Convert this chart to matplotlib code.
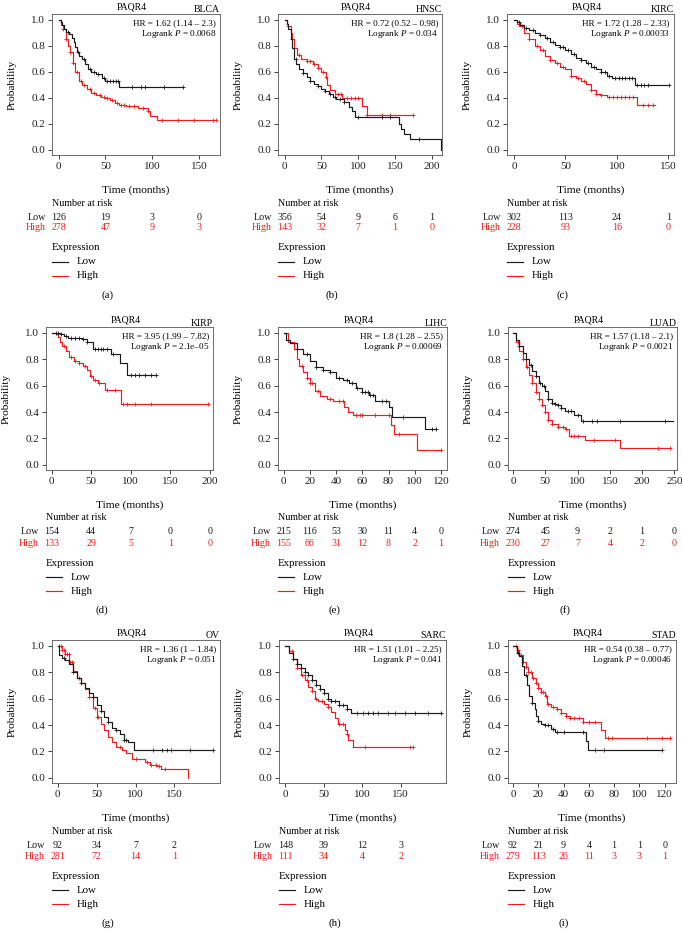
import numpy as np
import matplotlib.pyplot as plt
from matplotlib.lines import Line2D

plt.rcParams['font.family'] = ['Liberation Serif', 'DejaVu Serif']
plt.rcParams['mathtext.fontset'] = 'custom'
plt.rcParams['mathtext.rm'] = 'Liberation Serif'
plt.rcParams['mathtext.it'] = 'Liberation Serif:italic'

LOW_COL = '#1a1a1a'
HIGH_COL = '#ee1c1c'

# ---- BLCA ----
blca_low_t = [0, 2, 4, 6, 8, 11, 14, 16, 18, 20, 22, 25, 28, 31, 35, 40, 46, 50, 65, 133]
blca_low_s = [1.0, .98, .96, .93, .91, .89, .86, .83, .79, .75, .72, .70, .66, .62, .60, .58, .55, .53, .485, .485]
blca_low_c = [10, 21, 27, 33, 38, 42, 48, 52, 55, 58, 61, 63, 78, 88, 92, 113, 133]
blca_high_t = [0, 3, 5, 8, 10, 12, 15, 18, 22, 25, 30, 35, 40, 45, 50, 55, 60, 65, 72, 85, 95, 98, 105, 168]
blca_high_s = [1.0, .96, .93, .85, .80, .75, .67, .60, .53, .50, .47, .44, .42, .41, .40, .38, .36, .345, .34, .32, .30, .26, .23, .23]
blca_high_c = [5, 8, 12, 15, 20, 24, 27, 33, 38, 44, 48, 52, 57, 62, 67, 70, 75, 80, 90, 95, 110, 128, 145, 165, 168]
blca_risk_low = [126, 19, 3, 0]
blca_risk_high = [278, 47, 9, 3]

# ---- HNSC ----
hnsc_low_t = [0, 3, 5, 8, 10, 13, 16, 20, 25, 30, 35, 40, 45, 50, 55, 60, 65, 70, 80, 88, 92, 95, 155, 158, 162, 170, 213]
hnsc_low_s = [1.0, .97, .93, .85, .78, .70, .66, .62, .59, .56, .53, .51, .49, .47, .45, .43, .41, .39, .37, .33, .30, .25, .20, .16, .12, .08, 0.0]
hnsc_low_c = [15, 25, 35, 45, 55, 62, 68, 75, 80, 100, 132, 143, 182]
hnsc_high_t = [0, 3, 5, 8, 10, 13, 17, 22, 30, 38, 45, 50, 56, 58, 62, 68, 78, 105, 112, 175]
hnsc_high_s = [1.0, .97, .95, .90, .85, .78, .73, .70, .68, .66, .63, .60, .56, .50, .46, .43, .40, .34, .27, .27]
hnsc_high_c = [5, 10, 20, 30, 35, 40, 45, 52, 56, 72, 77, 85, 90, 95, 100, 112, 132, 143, 175]
hnsc_risk_low = [356, 54, 9, 6, 1]
hnsc_risk_high = [143, 32, 7, 1, 0]

# ---- KIRC ----
kirc_low_t = [0, 3, 6, 10, 15, 20, 25, 30, 35, 40, 45, 50, 55, 60, 65, 70, 75, 80, 85, 90, 95, 118, 151]
kirc_low_s = [1.0, .98, .96, .94, .92, .90, .88, .86, .83, .81, .79, .77, .74, .71, .69, .67, .64, .62, .60, .57, .55, .50, .50]
kirc_low_c = [5, 12, 18, 25, 32, 38, 45, 48, 52, 58, 65, 72, 78, 85, 88, 92, 98, 102, 105, 108, 112, 115, 120, 123, 126, 130, 151]
kirc_high_t = [0, 3, 5, 10, 15, 20, 25, 30, 35, 40, 45, 50, 55, 60, 65, 70, 75, 80, 85, 90, 120, 137]
kirc_high_s = [1.0, .97, .95, .90, .85, .80, .77, .72, .69, .67, .64, .62, .57, .55, .53, .51, .46, .43, .42, .41, .345, .345]
kirc_high_c = [8, 15, 22, 28, 35, 42, 48, 55, 62, 68, 75, 80, 85, 92, 96, 100, 104, 108, 112, 116, 125, 130, 135]
kirc_risk_low = [302, 113, 24, 1]
kirc_risk_high = [228, 93, 16, 0]

# ---- KIRP ----
kirp_low_t = [0, 10, 15, 20, 38, 45, 52, 75, 87, 95, 132]
kirp_low_s = [1.0, .99, .98, .965, .955, .93, .88, .84, .77, .68, .68]
kirp_low_c = [5, 8, 12, 18, 25, 30, 35, 40, 45, 55, 58, 62, 65, 70, 78, 100, 105, 110, 118, 125, 132]
kirp_high_t = [0, 5, 8, 10, 13, 18, 22, 28, 35, 40, 45, 48, 52, 58, 67, 88, 198]
kirp_high_s = [1.0, .99, .97, .93, .90, .86, .82, .79, .77, .75, .72, .67, .64, .62, .57, .46, .46]
kirp_high_c = [15, 25, 30, 35, 42, 50, 55, 60, 70, 80, 90, 95, 105, 125, 198]
kirp_risk_low = [154, 44, 7, 0, 0]
kirp_risk_high = [133, 29, 5, 1, 0]

# ---- LIHC ----
lihc_low_t = [0, 2, 5, 10, 15, 20, 25, 30, 35, 40, 45, 50, 55, 60, 65, 70, 80, 83, 108, 116]
lihc_low_s = [1.0, .95, .92, .88, .84, .79, .74, .72, .70, .66, .64, .62, .58, .55, .53, .48, .44, .365, .27, .27]
lihc_low_c = [10, 18, 25, 30, 35, 42, 48, 52, 56, 60, 62, 64, 66, 68, 75, 78, 91, 113, 116]
lihc_high_t = [0, 3, 8, 10, 12, 15, 18, 20, 24, 28, 33, 38, 46, 49, 53, 82, 84, 102, 120]
lihc_high_s = [1.0, .93, .88, .80, .75, .70, .66, .62, .56, .52, .50, .48, .44, .40, .38, .30, .23, .11, .11]
lihc_high_c = [14, 18, 20, 22, 26, 35, 42, 45, 55, 58, 60, 70, 80, 88, 120]
lihc_risk_low = [215, 116, 53, 30, 11, 4, 0]
lihc_risk_high = [155, 66, 31, 12, 8, 2, 1]

# ---- LUAD ----
luad_low_t = [0, 5, 10, 15, 20, 25, 30, 35, 40, 45, 50, 55, 60, 65, 70, 75, 80, 95, 105, 248]
luad_low_s = [1.0, .95, .90, .85, .80, .76, .71, .67, .62, .60, .56, .50, .47, .46, .45, .43, .41, .38, .335, .335]
luad_low_c = [10, 20, 28, 35, 42, 48, 55, 60, 65, 70, 75, 85, 90, 100, 109, 122, 130, 166, 235]
luad_high_t = [0, 5, 10, 15, 20, 25, 30, 35, 40, 45, 50, 55, 60, 70, 80, 87, 112, 165, 243]
luad_high_s = [1.0, .93, .86, .80, .74, .68, .62, .55, .50, .45, .40, .34, .31, .29, .27, .22, .19, .125, .125]
luad_high_c = [8, 15, 22, 30, 35, 40, 45, 50, 55, 60, 70, 78, 82, 90, 95, 100, 125, 158, 225, 243]
luad_risk_low = [274, 45, 9, 2, 1, 0]
luad_risk_high = [230, 27, 7, 4, 2, 0]

# ---- OV ----
ov_low_t = [0, 2, 5, 10, 15, 20, 25, 30, 35, 40, 45, 50, 55, 60, 65, 70, 75, 80, 85, 90, 98, 200]
ov_low_s = [1.0, .93, .91, .89, .86, .80, .76, .72, .68, .64, .61, .55, .51, .46, .42, .38, .36, .33, .29, .27, .21, .21]
ov_low_c = [8, 20, 30, 45, 55, 65, 75, 85, 88, 123, 134, 140, 145, 170, 200]
ov_high_t = [0, 5, 10, 15, 20, 25, 30, 35, 40, 45, 50, 55, 60, 65, 70, 75, 82, 88, 95, 112, 118, 128, 133, 168]
ov_high_s = [1.0, .97, .94, .88, .81, .76, .72, .67, .61, .53, .46, .41, .36, .31, .27, .23, .21, .19, .14, .12, .10, .09, .07, 0.0]
ov_high_c = [2, 4, 6, 8, 10, 12, 14, 16, 18, 28, 40, 48, 50, 52, 80, 100, 115, 120, 126, 130, 138]
ov_risk_low = [92, 34, 7, 2]
ov_risk_high = [281, 72, 14, 1]

# ---- SARC ----
sarc_low_t = [0, 5, 10, 15, 20, 25, 30, 35, 40, 45, 50, 55, 60, 70, 80, 85, 204]
sarc_low_s = [1.0, .95, .90, .86, .83, .80, .78, .74, .70, .67, .64, .60, .58, .55, .52, .49, .49]
sarc_low_c = [10, 15, 20, 25, 30, 35, 40, 45, 50, 55, 60, 65, 70, 75, 80, 93, 101, 108, 114, 121, 134, 142, 156, 169, 186, 203]
sarc_high_t = [0, 5, 10, 15, 20, 25, 30, 35, 38, 42, 50, 55, 60, 65, 68, 78, 80, 82, 88, 166]
sarc_high_s = [1.0, .96, .90, .83, .78, .74, .69, .66, .60, .58, .56, .54, .50, .45, .41, .36, .33, .29, .23, .23]
sarc_high_c = [8, 15, 22, 28, 35, 40, 48, 55, 70, 75, 80, 103, 162, 166]
sarc_risk_low = [148, 39, 12, 3]
sarc_risk_high = [111, 34, 4, 2]

# ---- STAD ----
stad_low_t = [0, 3, 5, 7, 9, 11, 13, 15, 17, 18, 20, 22, 25, 30, 33, 58, 59, 118]
stad_low_s = [1.0, .95, .92, .85, .78, .70, .62, .57, .52, .47, .43, .41, .40, .37, .345, .275, .21, .21]
stad_low_c = [4, 10, 15, 20, 25, 28, 32, 35, 40, 55, 65, 72, 118]
stad_high_t = [0, 3, 5, 8, 10, 12, 15, 18, 20, 22, 25, 27, 30, 35, 38, 42, 45, 55, 70, 73, 124]
stad_high_s = [1.0, .97, .93, .88, .84, .80, .76, .72, .68, .65, .62, .56, .54, .52, .49, .47, .45, .42, .36, .30, .30]
stad_high_c = [2, 4, 6, 8, 10, 12, 14, 16, 18, 20, 22, 24, 26, 28, 32, 35, 38, 42, 45, 48, 52, 55, 60, 65, 75, 78, 106, 118, 124]
stad_risk_low = [92, 21, 9, 4, 1, 1, 0]
stad_risk_high = [279, 113, 26, 11, 3, 3, 1]

cancers = ['BLCA', 'HNSC', 'KIRC', 'KIRP', 'LIHC', 'LUAD', 'OV', 'SARC', 'STAD']
hr_text = ['1.62 (1.14 – 2.3)', '0.72 (0.52 – 0.98)', '1.72 (1.28 – 2.33)',
           '3.95 (1.99 – 7.82)', '1.8 (1.28 – 2.55)', '1.57 (1.18 – 2.1)',
           '1.36 (1 – 1.84)', '1.51 (1.01 – 2.25)', '0.54 (0.38 – 0.77)']
p_text = ['0.0068', '0.034', '0.00033', '2.1e–05', '0.00069', '0.0021',
          '0.051', '0.041', '0.00046']
tags = ['(a)', '(b)', '(c)', '(d)', '(e)', '(f)', '(g)', '(h)', '(i)']

# layout (pixels): left, top, right, bottom of each plot box
rects = [(52, 14, 220, 155), (278, 14, 442, 155), (507, 14, 674, 155),
         (46, 327, 213, 470), (278, 327, 447, 470), (508, 327, 677, 470),
         (52, 640, 220, 783), (279, 640, 446, 783), (508, 640, 676, 783)]
xlims = [(-7.1, 172.4), (-9.1, 213.8), (-6.8, 155.5), (-7.2, 204), (-4.3, 124.6),
         (-7.7, 254), (-7.3, 208.5), (-8.3, 209), (-4, 129)]
xticks = [[0, 50, 100, 150], [0, 50, 100, 150, 200], [0, 50, 100, 150],
          [0, 50, 100, 150, 200], [0, 20, 40, 60, 80, 100, 120],
          [0, 50, 100, 150, 200, 250], [0, 50, 100, 150], [0, 50, 100, 150],
          [0, 20, 40, 60, 80, 100, 120]]

curves = [
    (blca_low_t, blca_low_s, blca_low_c, blca_high_t, blca_high_s, blca_high_c, blca_risk_low, blca_risk_high),
    (hnsc_low_t, hnsc_low_s, hnsc_low_c, hnsc_high_t, hnsc_high_s, hnsc_high_c, hnsc_risk_low, hnsc_risk_high),
    (kirc_low_t, kirc_low_s, kirc_low_c, kirc_high_t, kirc_high_s, kirc_high_c, kirc_risk_low, kirc_risk_high),
    (kirp_low_t, kirp_low_s, kirp_low_c, kirp_high_t, kirp_high_s, kirp_high_c, kirp_risk_low, kirp_risk_high),
    (lihc_low_t, lihc_low_s, lihc_low_c, lihc_high_t, lihc_high_s, lihc_high_c, lihc_risk_low, lihc_risk_high),
    (luad_low_t, luad_low_s, luad_low_c, luad_high_t, luad_high_s, luad_high_c, luad_risk_low, luad_risk_high),
    (ov_low_t, ov_low_s, ov_low_c, ov_high_t, ov_high_s, ov_high_c, ov_risk_low, ov_risk_high),
    (sarc_low_t, sarc_low_s, sarc_low_c, sarc_high_t, sarc_high_s, sarc_high_c, sarc_risk_low, sarc_risk_high),
    (stad_low_t, stad_low_s, stad_low_c, stad_high_t, stad_high_s, stad_high_c, stad_risk_low, stad_risk_high),
]

W, H = 682, 930
fig = plt.figure(figsize=(W / 100, H / 100), dpi=100)

FS_TICK = 8
FS_LAB = 8.2
FS_RISK = 7.2
FS_LEG = 7.8
FS_HR = 6.6
FS_TITLE = 7


def pt(px):
    return px * 0.72


def km(ax, t, s, cens, col):
    t = np.asarray(t, float)
    s = np.asarray(s, float)
    ax.step(t, s, where='post', color=col, lw=0.85)
    c = np.asarray(cens, float)
    idx = np.searchsorted(t, c, side='right') - 1
    ax.plot(c, s[idx], '+', color=col, ms=3.5, mew=0.6, ls='none')


for k in range(9):
    l, t0, r, b = rects[k]
    ax = fig.add_axes([l / W, 1 - b / H, (r - l) / W, (b - t0) / H])
    lt, ls, lc, ht, hs, hc, rl, rh = curves[k]
    km(ax, ht, hs, hc, HIGH_COL)
    km(ax, lt, ls, lc, LOW_COL)

    ax.set_xlim(*xlims[k])
    ax.set_ylim(-0.04, 1.045)
    ax.set_xticks(xticks[k])
    ax.set_yticks([0, 0.2, 0.4, 0.6, 0.8, 1.0])
    ax.set_yticklabels(['0.0', '0.2', '0.4', '0.6', '0.8', '1.0'])
    ax.tick_params(direction='out', length=3, width=0.6, labelsize=FS_TICK, pad=2, colors='#222222')
    for sp in ax.spines.values():
        sp.set_linewidth(0.6)
        sp.set_color('#555555')
    ax.set_ylabel('Probability', fontsize=FS_LAB)
    ax.yaxis.set_label_coords(-35 / (r - l), 0.5)

    # titles
    ax.annotate('PAQR4', xy=(0.5, 1), xycoords='axes fraction', xytext=(-pt(4), pt(7)),
                textcoords='offset points', ha='center', va='center', fontsize=FS_TITLE)
    ax.annotate(cancers[k], xy=(1, 1), xycoords='axes fraction', xytext=(0, pt(4)),
                textcoords='offset points', ha='right', va='center', fontsize=FS_TITLE)
    ax.annotate('HR = ' + hr_text[k], xy=(1, 1), xycoords='axes fraction',
                xytext=(-pt(4), -pt(9)), textcoords='offset points',
                ha='right', va='center', fontsize=FS_HR)
    ax.annotate('Logrank $P$ = ' + p_text[k], xy=(1, 1), xycoords='axes fraction',
                xytext=(-pt(4), -pt(20)), textcoords='offset points',
                ha='right', va='center', fontsize=FS_HR)

    # below axes
    ax.annotate('Time (months)', xy=(0.5, 0), xycoords='axes fraction', xytext=(0, -pt(35)),
                textcoords='offset points', ha='center', va='center', fontsize=FS_LAB)
    ax.annotate('Number at risk', xy=(0, 0), xycoords='axes fraction', xytext=(0, -pt(48)),
                textcoords='offset points', ha='left', va='center', fontsize=FS_RISK)
    ax.annotate('Low', xy=(0, 0), xycoords=('data', 'axes fraction'), xytext=(-pt(13), -pt(62)),
                textcoords='offset points', ha='right', va='center', fontsize=FS_RISK,
                color=LOW_COL, annotation_clip=False)
    ax.annotate('High', xy=(0, 0), xycoords=('data', 'axes fraction'), xytext=(-pt(13), -pt(73)),
                textcoords='offset points', ha='right', va='center', fontsize=FS_RISK,
                color=HIGH_COL, annotation_clip=False)
    for x, n1, n2 in zip(xticks[k], rl, rh):
        ax.annotate(str(n1), xy=(x, 0), xycoords=('data', 'axes fraction'), xytext=(0, -pt(62)),
                    textcoords='offset points', ha='center', va='center', fontsize=FS_RISK,
                    color=LOW_COL, annotation_clip=False)
        ax.annotate(str(n2), xy=(x, 0), xycoords=('data', 'axes fraction'), xytext=(0, -pt(73)),
                    textcoords='offset points', ha='center', va='center', fontsize=FS_RISK,
                    color=HIGH_COL, annotation_clip=False)

    # legend
    fig.text(l / W, 1 - (b + 93) / H, 'Expression', ha='left', va='center', fontsize=FS_LEG)
    for lab, col, dy in [('Low', LOW_COL, 107), ('High', HIGH_COL, 121)]:
        y = 1 - (b + dy) / H
        fig.add_artist(Line2D([l / W, (l + 16) / W], [y, y], color=col, lw=0.85))
        fig.text((l + 25) / W, y, lab, ha='left', va='center', fontsize=FS_LEG)

    fig.text((l + r) / 2 / W - 28 / W, 1 - (b + 140) / H, tags[k], ha='center', va='center', fontsize=FS_LEG)

fig.savefig('out.png', dpi=100)
